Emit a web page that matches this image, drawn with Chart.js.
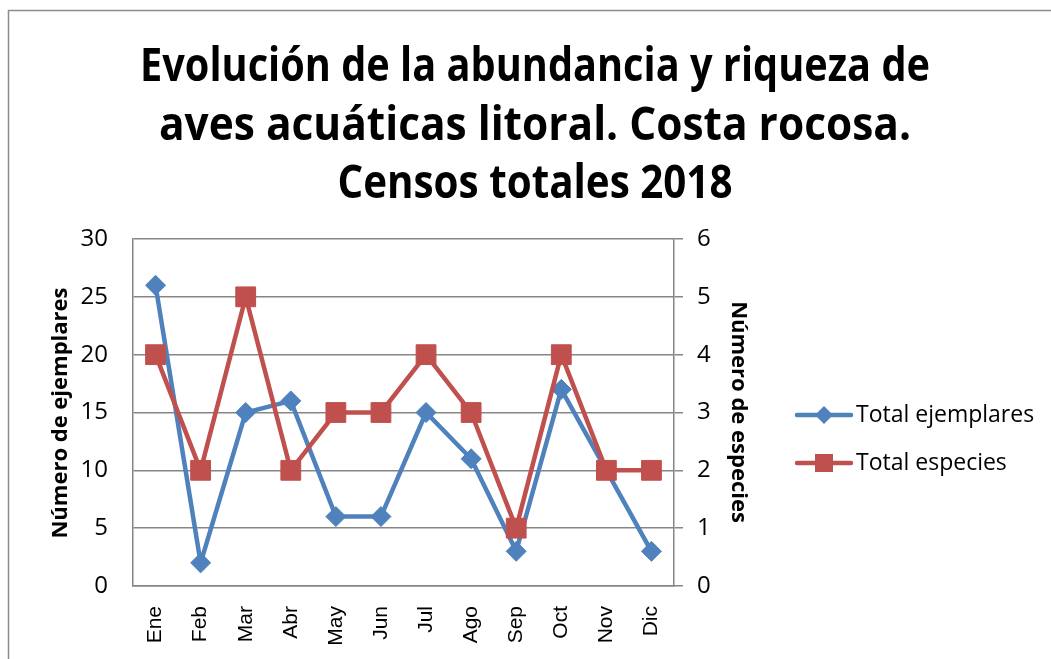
<!DOCTYPE html>
<html>
<head>
<meta charset="utf-8">
<script src="https://cdn.jsdelivr.net/npm/chart.js@4.4.0/dist/chart.umd.min.js"></script>
<style>
  html, body { margin: 0; padding: 0; background: #fff; }
  #wrap { width: 1051px; height: 659px; }
</style>
</head>
<body>
<div id="wrap"><canvas id="chart" width="1051" height="659"></canvas></div>
<script>
// data
const months = ['Ene', 'Feb', 'Mar', 'Abr', 'May', 'Jun', 'Jul', 'Ago', 'Sep', 'Oct', 'Nov', 'Dic'];
const totalEjemplares = [26, 2, 15, 16, 6, 6, 15, 11, 3, 17, 10, 3];
const totalEspecies = [4, 2, 5, 2, 3, 3, 4, 3, 1, 4, 2, 2];
const leftTicks = [0, 5, 10, 15, 20, 25, 30];
const rightTicks = [0, 1, 2, 3, 4, 5, 6];
const titleLines = ['Evolución de la abundancia y riqueza de', 'aves acuáticas litoral. Costa rocosa.', 'Censos totales 2018'];
const seriesNames = ['Total ejemplares', 'Total especies'];

const BLUE = '#4F81BD';
const RED = '#C0504D';
const GRID = '#868686';

// title, axis titles, legend and the chart frame
const decorations = {
    id: 'decorations',
    beforeDraw(chart) {
        const ctx = chart.ctx;
        ctx.save();
        ctx.strokeStyle = '#8c8c8c';
        ctx.lineWidth = 1.5;
        ctx.beginPath();
        ctx.moveTo(8.5, 700);
        ctx.lineTo(8.5, 10.5);
        ctx.lineTo(1100, 10.5);
        ctx.stroke();
        ctx.restore();
    },
    afterDraw(chart) {
        const ctx = chart.ctx;
        ctx.save();
        ctx.fillStyle = '#000';
        ctx.textAlign = 'center';
        ctx.textBaseline = 'alphabetic';

        // title (Calibri is narrow, so squeeze to the measured widths)
        const titleWidths = [790, 752, 395];
        const titleBase = [81, 140, 198];
        ctx.font = 'bold 47px "Open Sans"';
        titleLines.forEach((t, i) => ctx.fillText(t, 535, titleBase[i], titleWidths[i]));

        // axis titles
        ctx.font = 'bold 22px "Open Sans"';
        ctx.textBaseline = 'middle';
        ctx.save();
        ctx.translate(61, 413);
        ctx.rotate(-Math.PI / 2);
        ctx.fillText('Número de ejemplares', 0, 0, 254);
        ctx.restore();
        ctx.save();
        ctx.translate(738, 412);
        ctx.rotate(Math.PI / 2);
        ctx.fillText('Número de especies', 0, 0, 226);
        ctx.restore();

        // legend
        const items = [
            { y: 415, color: BLUE, shape: 'diamond' },
            { y: 463, color: RED, shape: 'square' }
        ];
        ctx.textAlign = 'left';
        ctx.font = '23px "Open Sans"';
        items.forEach((it, i) => {
            ctx.strokeStyle = it.color;
            ctx.fillStyle = it.color;
            ctx.lineWidth = 4.5;
            ctx.lineCap = 'round';
            ctx.beginPath();
            ctx.moveTo(797, it.y);
            ctx.lineTo(851, it.y);
            ctx.stroke();
            ctx.beginPath();
            if (it.shape === 'diamond') {
                ctx.moveTo(824 - 9, it.y);
                ctx.lineTo(824, it.y - 9);
                ctx.lineTo(824 + 9, it.y);
                ctx.lineTo(824, it.y + 9);
                ctx.closePath();
            } else {
                ctx.rect(824 - 9, it.y - 9, 18, 18);
            }
            ctx.fill();
            ctx.fillStyle = '#000';
            ctx.fillText(seriesNames[i], 856, it.y, i === 0 ? 180 : 152);
        });
        ctx.restore();
    }
};

new Chart(document.getElementById('chart'), {
    type: 'line',
    data: {
        labels: months,
        datasets: [
            {
                label: seriesNames[0],
                data: totalEjemplares,
                yAxisID: 'y',
                borderColor: BLUE,
                backgroundColor: BLUE,
                borderWidth: 4.5,
                pointStyle: 'rectRot',
                pointRadius: 10,
                pointBorderWidth: 1,
                tension: 0,
                order: 2
            },
            {
                label: seriesNames[1],
                data: totalEspecies,
                yAxisID: 'y1',
                borderColor: RED,
                backgroundColor: RED,
                borderWidth: 4.5,
                pointStyle: 'rect',
                pointRadius: 14,
                pointBorderWidth: 1,
                tension: 0,
                order: 1
            }
        ]
    },
    options: {
        responsive: false,
        animation: false,
        layout: { padding: { left: 0, top: 239, right: 287, bottom: 0 } },
        plugins: {
            legend: { display: false },
            title: { display: false },
            tooltip: { enabled: false }
        },
        scales: {
            x: {
                offset: true,
                grid: { display: false },
                border: { display: true, color: GRID, width: 1.5 },
                ticks: {
                    color: '#000',
                    font: { family: '"Liberation Sans"', size: 21 },
                    maxRotation: 90,
                    minRotation: 90,
                    autoSkip: false,
                    padding: 12
                },
                afterFit: s => { s.height = 73; }
            },
            y: {
                position: 'left',
                min: leftTicks[0],
                max: leftTicks[leftTicks.length - 1],
                afterBuildTicks: s => { s.ticks = leftTicks.map(v => ({ value: v })); },
                grid: { color: GRID, lineWidth: 1.5, drawTicks: false },
                border: { display: true, color: GRID, width: 1.5 },
                ticks: {
                    color: '#000',
                    font: { family: '"Open Sans"', size: 24 },
                    padding: 25
                },
                afterFit: s => { s.width = 133; }
            },
            y1: {
                position: 'right',
                min: rightTicks[0],
                max: rightTicks[rightTicks.length - 1],
                afterBuildTicks: s => { s.ticks = rightTicks.map(v => ({ value: v })); },
                grid: { drawOnChartArea: false, color: GRID, lineWidth: 1.5, tickLength: 9 },
                border: { display: true, color: GRID, width: 1.5 },
                ticks: {
                    color: '#000',
                    font: { family: '"Open Sans"', size: 24 },
                    padding: 14
                },
                afterFit: s => { s.width = 90; }
            }
        }
    },
    plugins: [decorations]
});
</script>
</body>
</html>
